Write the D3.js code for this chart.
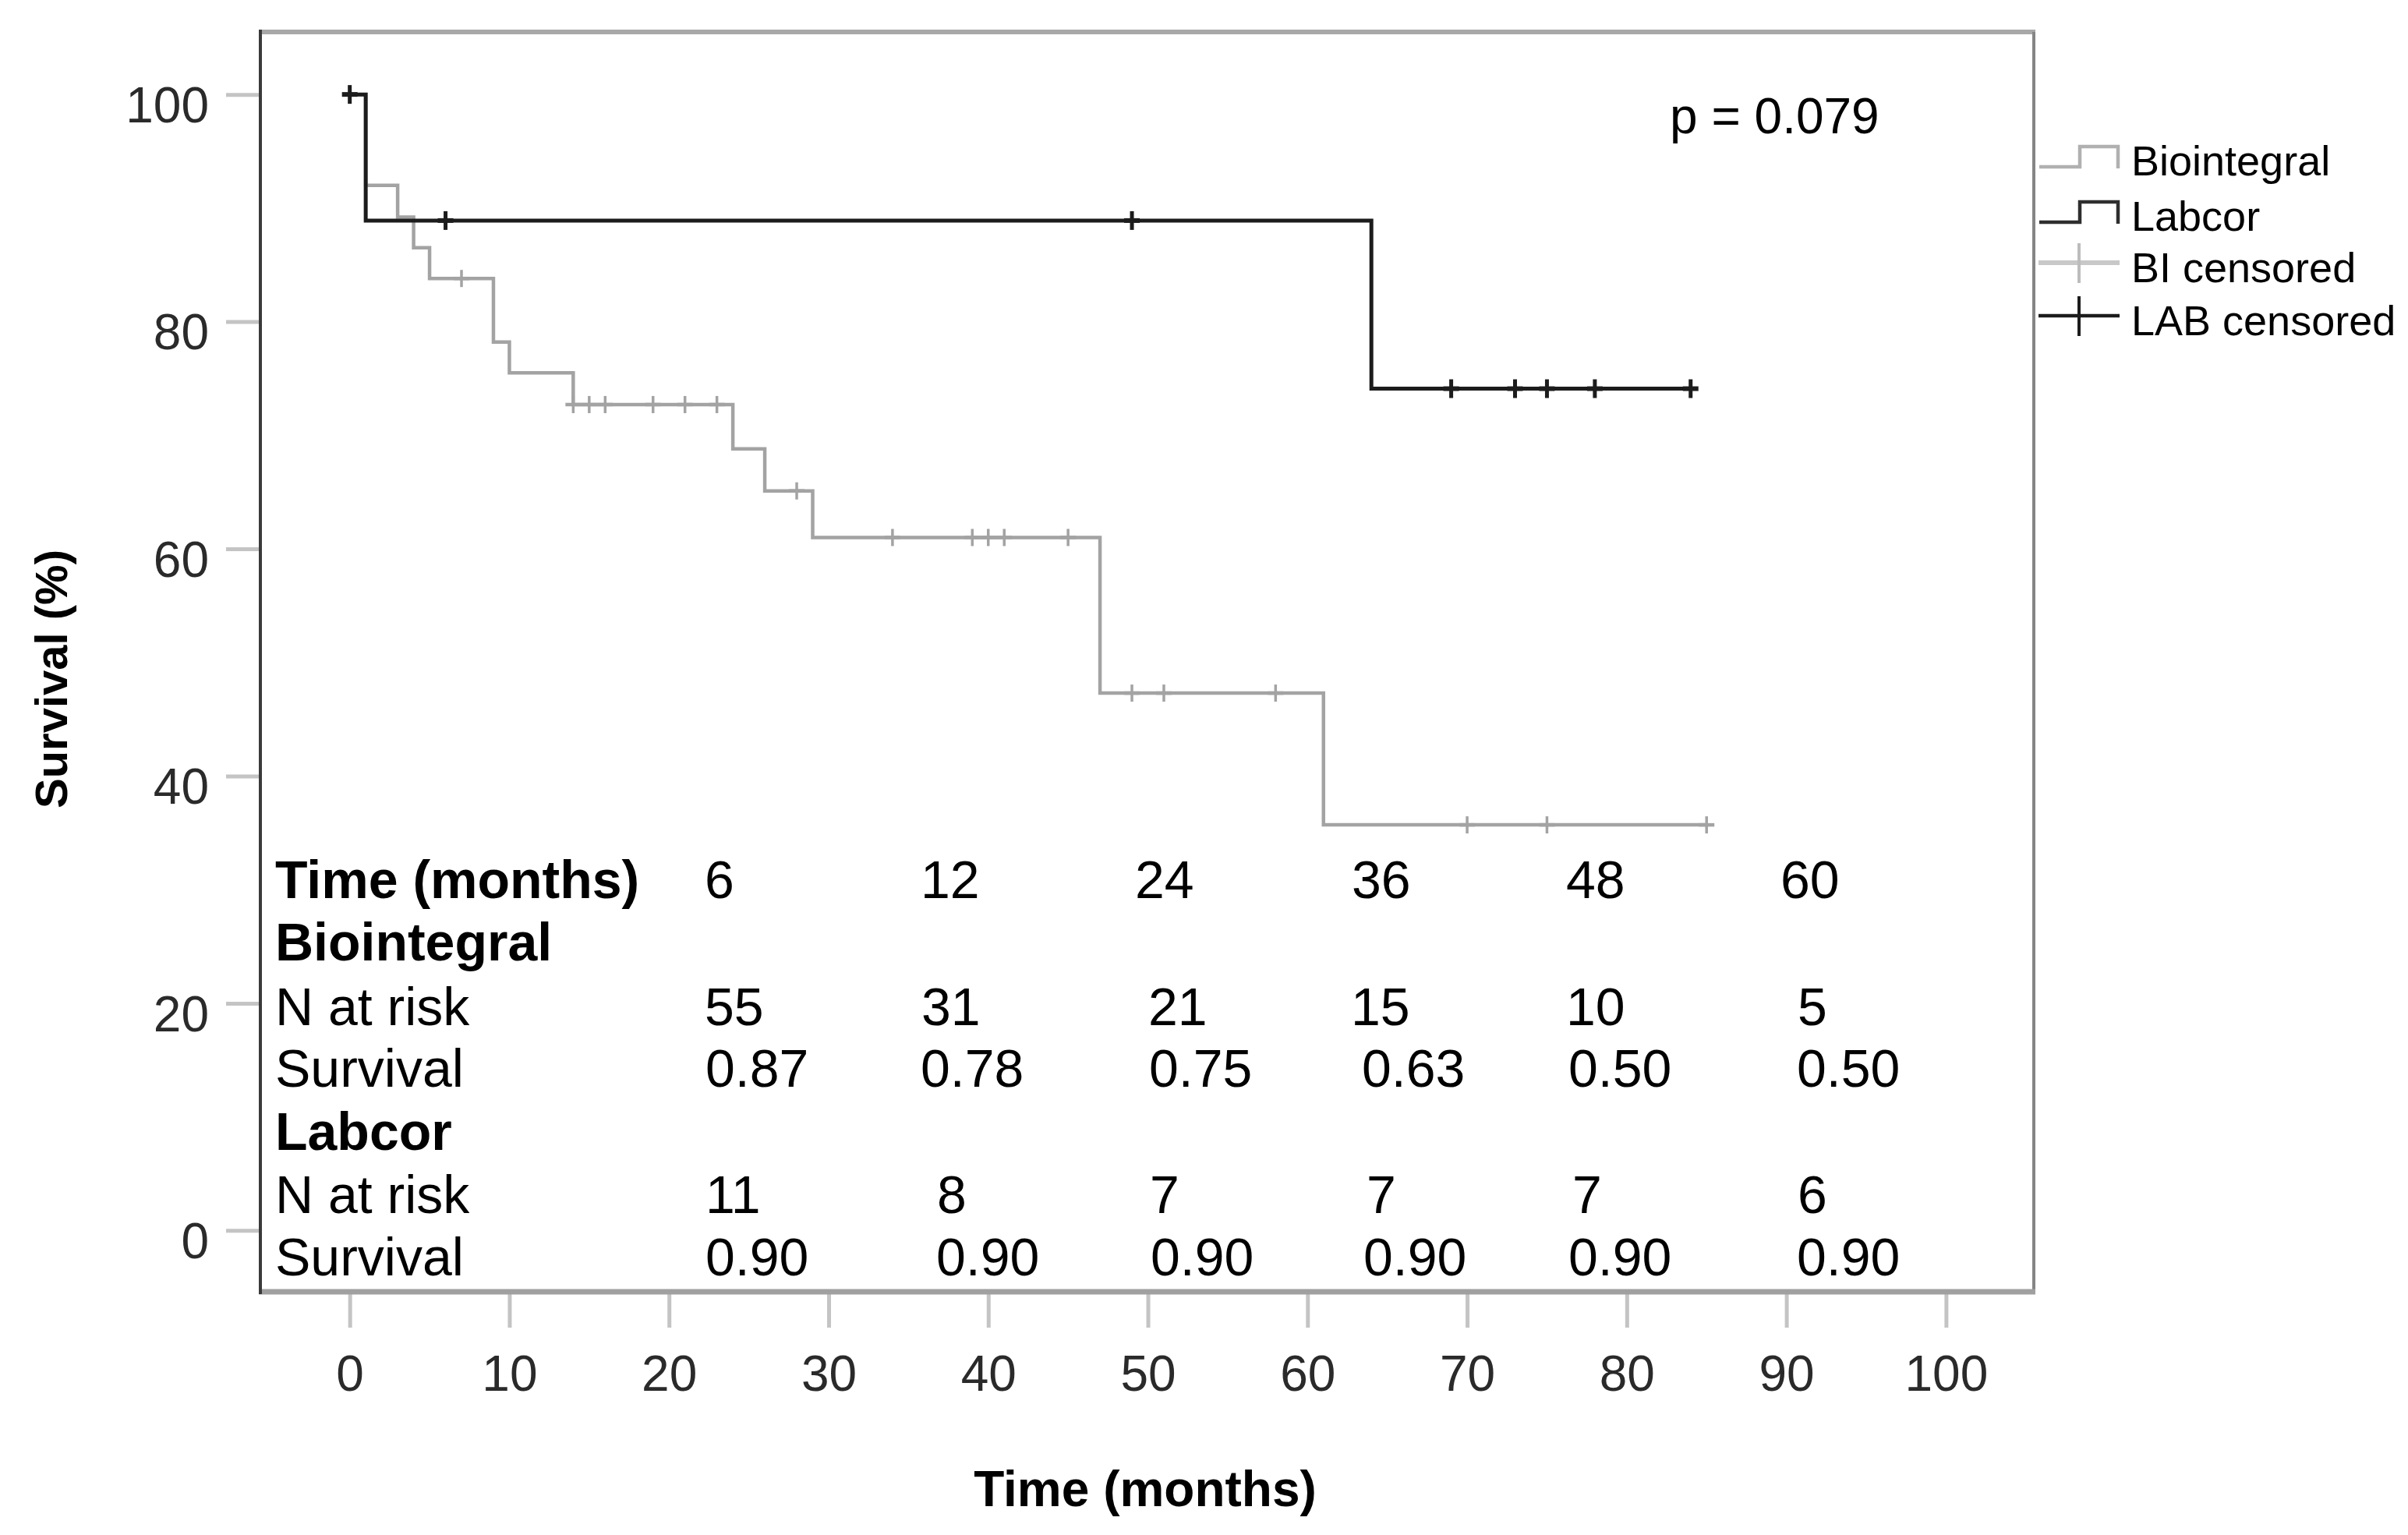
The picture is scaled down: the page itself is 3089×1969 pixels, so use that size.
<!DOCTYPE html>
<html>
<head>
<meta charset="utf-8">
<script src="https://cdn.jsdelivr.net/npm/d3@7"></script>
<style>
  body { margin: 0; background: #fff; }
  text { font-family: "Liberation Sans", Arial, sans-serif; }
</style>
</head>
<body>
<div id="chart"></div>
<script>
// Kaplan-Meier steps (time in months, survival in %)
var bioTimes = [0, 1, 3, 4, 5, 9, 10, 14, 24, 26, 29, 47, 61, 85];
var bioSurvival = [100, 92.0, 89.2, 86.5, 83.8, 78.2, 75.5, 72.7, 68.8, 65.1, 61.0, 47.3, 35.7, 35.7];
var bioCensored = [7, 14, 15, 16, 19, 21, 23, 28, 34, 39, 40, 41, 45, 49, 51, 58, 70, 75, 85];

var labTimes = [0, 1, 64, 84];
var labSurvival = [100, 88.9, 74.1, 74.1];
var labCensored = [0, 6, 49, 69, 73, 75, 78, 84];

var xTickValues = [0, 10, 20, 30, 40, 50, 60, 70, 80, 90, 100];
var yTickValues = [0, 20, 40, 60, 80, 100];

var legendLabels = ["Biointegral", "Labcor", "BI censored", "LAB censored"];
var pValueText = "p = 0.079";

// number at risk table
var rowLabels = ["Time (months)", "Biointegral", "N at risk", "Survival", "Labcor", "N at risk", "Survival"];
var riskTimes = ["6", "12", "24", "36", "48", "60"];
var bioAtRisk = ["55", "31", "21", "15", "10", "5"];
var bioTableSurvival = ["0.87", "0.78", "0.75", "0.63", "0.50", "0.50"];
var labAtRisk = ["11", "8", "7", "7", "7", "6"];
var labTableSurvival = ["0.90", "0.90", "0.90", "0.90", "0.90", "0.90"];

// layout
var svgWidth = 3089;
var svgHeight = 1969;
var box = { left: 334, right: 2609, top: 41, bottom: 1657 };

var rowBaselines = [1152, 1232, 1315, 1394, 1475, 1556, 1636];
var rowBold = [true, true, false, false, true, false, false];
var tableRows = [riskTimes, null, bioAtRisk, bioTableSurvival, null, labAtRisk, labTableSurvival];
var cellX = [
  [904, 1181, 1456, 1734, 2009, 2284],
  null,
  [904, 1182, 1473, 1733, 2009, 2306],
  [905, 1181, 1474, 1747, 2012, 2305],
  null,
  [905, 1202, 1475, 1753, 2017, 2306],
  [905, 1201, 1476, 1749, 2012, 2305]
];

var svg = d3.select("#chart")
    .append("svg")
    .attr("width", svgWidth)
    .attr("height", svgHeight);

svg.append("rect")
    .attr("width", svgWidth)
    .attr("height", svgHeight)
    .attr("fill", "#fff");

var xScale = d3.scaleLinear()
    .domain([-5.6, 105.5])
    .range([box.left, box.right]);

var yScale = d3.scaleLinear()
    .domain([-5.4, 105.5])
    .range([box.bottom, box.top]);

// axes (ticks are drawn outside the frame)
var yAxis = d3.axisLeft(yScale)
    .tickValues(yTickValues)
    .tickSize(44)
    .tickPadding(22);

var xAxis = d3.axisBottom(xScale)
    .tickValues(xTickValues)
    .tickSize(46)
    .tickPadding(36);

var yAxisG = svg.append("g")
    .attr("transform", `translate(${box.left}, 0)`)
    .call(yAxis);

var xAxisG = svg.append("g")
    .attr("transform", `translate(0, ${box.bottom})`)
    .call(xAxis);

[yAxisG, xAxisG].forEach(function(g) {
  g.select(".domain").remove();
  g.selectAll(".tick line")
    .attr("stroke", "#c4c4c4")
    .attr("stroke-width", 5);
  g.selectAll(".tick text")
    .attr("font-size", 64)
    .attr("fill", "#2a2a2a")
    .attr("font-family", "Liberation Sans, Arial, sans-serif");
});
yAxisG.selectAll(".tick text").attr("dy", "0.55em");
xAxisG.selectAll(".tick text").attr("dy", "0.71em");

// frame
svg.append("line")
    .attr("x1", box.left - 2).attr("x2", box.right + 2)
    .attr("y1", box.top).attr("y2", box.top)
    .attr("stroke", "#a8a8a8").attr("stroke-width", 6);
svg.append("line")
    .attr("x1", box.right).attr("x2", box.right)
    .attr("y1", box.top).attr("y2", box.bottom)
    .attr("stroke", "#858585").attr("stroke-width", 4);
svg.append("line")
    .attr("x1", box.left - 2).attr("x2", box.right + 2)
    .attr("y1", box.bottom).attr("y2", box.bottom)
    .attr("stroke", "#a0a0a0").attr("stroke-width", 7);
svg.append("line")
    .attr("x1", box.left).attr("x2", box.left)
    .attr("y1", box.top - 3).attr("y2", box.bottom + 3)
    .attr("stroke", "#3a3a3a").attr("stroke-width", 4);

// survival curves
var stepLine = d3.line()
    .x(d => xScale(d[0]))
    .y(d => yScale(d[1]))
    .curve(d3.curveStepAfter);

function stepValue(times, values, t) {
  var i = d3.bisectRight(times, t) - 1;
  return values[Math.max(0, i)];
}

function drawCurve(times, values, censored, color, width, markWidth, markSize) {
  svg.append("path")
    .datum(d3.zip(times, values))
    .attr("d", stepLine)
    .attr("fill", "none")
    .attr("stroke", color)
    .attr("stroke-width", width);

  var marks = svg.append("g")
    .selectAll("g")
    .data(censored)
    .enter()
    .append("g")
    .attr("transform", d => `translate(${xScale(d)}, ${yScale(stepValue(times, values, d))})`);

  marks.append("line")
    .attr("x1", 0).attr("x2", 0)
    .attr("y1", -markSize).attr("y2", markSize)
    .attr("stroke", color)
    .attr("stroke-width", markWidth);
  marks.append("line")
    .attr("x1", -10).attr("x2", 10)
    .attr("y1", 0).attr("y2", 0)
    .attr("stroke", color)
    .attr("stroke-width", markWidth + 1);
}

drawCurve(bioTimes, bioSurvival, bioCensored, "#a3a3a3", 4.5, 3.5, 11);
drawCurve(labTimes, labSurvival, labCensored, "#1c1c1c", 5, 5, 12);

// p value
svg.append("text")
  .attr("x", 2142)
  .attr("y", 171)
  .attr("font-size", 64)
  .attr("fill", "#000")
  .text(pValueText);

// legend
var legendBaselines = [225, 296, 362, 430];
var legendColors = ["#b0b0b0", "#2e2e2e", "#c8c8c8", "#1c1c1c"];
var legendG = svg.append("g");

legendG.selectAll("text")
  .data(legendLabels)
  .enter()
  .append("text")
  .attr("x", 2734)
  .attr("y", (d, i) => legendBaselines[i])
  .attr("font-size", 54)
  .attr("fill", "#000")
  .text(d => d);

// step symbols for the two curves
[0, 1].forEach(function(i) {
  var low = legendBaselines[i] - 11;
  var high = legendBaselines[i] - 37;
  legendG.append("path")
    .attr("d", `M2616,${low}H2668V${high}H2717V${low + 2}`)
    .attr("fill", "none")
    .attr("stroke", legendColors[i])
    .attr("stroke-width", 4.5);
});

// plus symbols for censored marks
[2, 3].forEach(function(i) {
  var mid = legendBaselines[i] - 25;
  legendG.append("line")
    .attr("x1", 2615).attr("x2", 2719)
    .attr("y1", mid).attr("y2", mid)
    .attr("stroke", legendColors[i])
    .attr("stroke-width", i == 2 ? 6 : 4.5);
  legendG.append("line")
    .attr("x1", 2667).attr("x2", 2667)
    .attr("y1", mid - 25).attr("y2", mid + 26)
    .attr("stroke", i == 2 ? "#bcbcbc" : "#1c1c1c")
    .attr("stroke-width", 4);
});

// axis titles
svg.append("text")
  .attr("transform", "translate(86, 871) rotate(-90)")
  .attr("text-anchor", "middle")
  .attr("font-size", 58)
  .attr("font-weight", "bold")
  .attr("fill", "#000")
  .text("Survival (%)");

svg.append("text")
  .attr("x", 1469)
  .attr("y", 1932)
  .attr("text-anchor", "middle")
  .attr("font-size", 64)
  .attr("font-weight", "bold")
  .attr("fill", "#000")
  .text("Time (months)");

// at-risk table inside the plot
var tableG = svg.append("g");

tableG.selectAll("text.rowLabel")
  .data(rowLabels)
  .enter()
  .append("text")
  .attr("class", "rowLabel")
  .attr("x", 353)
  .attr("y", (d, i) => rowBaselines[i])
  .attr("font-size", 68)
  .attr("font-weight", (d, i) => rowBold[i] ? "bold" : "normal")
  .attr("fill", "#000")
  .text(d => d);

tableRows.forEach(function(row, r) {
  if (!row) return;
  tableG.append("g")
    .selectAll("text")
    .data(row)
    .enter()
    .append("text")
    .attr("x", (d, c) => cellX[r][c])
    .attr("y", rowBaselines[r])
    .attr("font-size", 68)
    .attr("fill", "#000")
    .text(d => d);
});
</script>
</body>
</html>
